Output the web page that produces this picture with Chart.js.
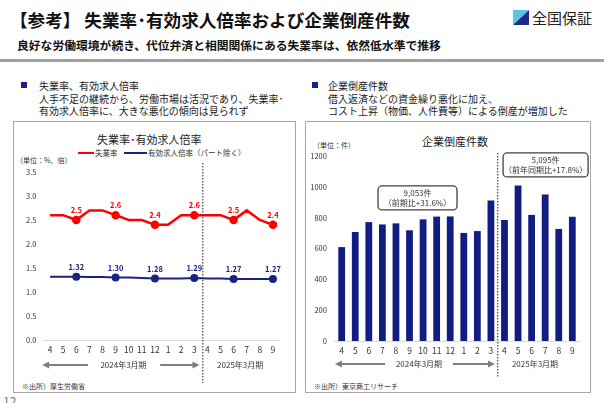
<!DOCTYPE html>
<html lang="ja">
<head>
<meta charset="utf-8">
<script src="https://cdn.jsdelivr.net/npm/chart.js@4.4.1/dist/chart.umd.min.js"></script>
<style>
  html, body { margin: 0; padding: 0; }
  body { width: 604px; height: 403px; overflow: hidden; position: relative; background: #fff;
         font-family: "Noto Sans CJK JP", sans-serif; color: #222; }
  .abs { position: absolute; white-space: nowrap; line-height: 1; }
  .title { left: 10px; top: 11px; font-size: 17.6px; font-weight: bold; color: #111; }
  .sub { left: 17px; top: 39px; font-size: 11.8px; font-weight: bold; color: #111; }
  .rule { left: 0; top: 59px; width: 604px; height: 3px; background: #a0a0a0; }
  .logo { left: 532px; top: 10px; font-size: 15px; color: #222; }
  .sq { width: 6px; height: 6px; background: #1a2383; }
  .txt { font-size: 10px; color: #222; }
  .box { box-sizing: border-box; border: 1.5px solid #a6a6a6; }
  .ctitle { font-size: 11px; color: #222; }
  .small { font-size: 7px; color: #333; }
  .leg { font-size: 7.5px; color: #333; }
  .legline { height: 2px; }
  canvas { position: absolute; }
</style>
</head>
<body>
<div class="abs title">【参考】 失業率･有効求人倍率および企業倒産件数</div>
<svg class="abs" style="left:513px;top:10px" width="16" height="15">
  <polygon points="0,0 16,0 0,15" fill="#5cc4dc"/>
  <polygon points="16,0 16,15 0,15" fill="#1a2b8c"/>
</svg>
<div class="abs logo">全国保証</div>
<div class="abs sub">良好な労働環境が続き、代位弁済と相関関係にある失業率は、依然低水準で推移</div>
<div class="abs rule"></div>

<div class="abs sq" style="left:21px;top:82px"></div>
<div class="abs txt" style="left:39px;top:81px">失業率、有効求人倍率</div>
<div class="abs txt" style="left:39px;top:94px">人手不足の継続から、労働市場は活況であり、失業率･</div>
<div class="abs txt" style="left:39px;top:106px">有効求人倍率に、大きな悪化の傾向は見られず</div>

<div class="abs sq" style="left:312px;top:82px"></div>
<div class="abs txt" style="left:328px;top:81px">企業倒産件数</div>
<div class="abs txt" style="left:328px;top:94px">借入返済などの資金繰り悪化に加え、</div>
<div class="abs txt" style="left:328px;top:106px">コスト上昇（物価、人件費等）による倒産が増加した</div>

<div class="abs box" style="left:13px;top:121px;width:283px;height:272px"></div>
<div class="abs box" style="left:305px;top:121px;width:286px;height:272px"></div>

<div class="abs ctitle" style="left:97px;top:134px">失業率･有効求人倍率</div>
<div class="abs legline" style="left:78px;top:152px;width:16px;background:#ff0000"></div>
<div class="abs leg" style="left:95px;top:149px">失業率</div>
<div class="abs legline" style="left:124px;top:152px;width:23px;background:#1a2383"></div>
<div class="abs leg" style="left:148px;top:149px">有効求人倍率（パート除く）</div>
<div class="abs small" style="left:16px;top:157px">（単位：%、倍）</div>
<div class="abs small" style="left:22px;top:383px">※出所）厚生労働省</div>

<div class="abs ctitle" style="left:422px;top:136px">企業倒産件数</div>
<div class="abs small" style="left:313px;top:142px">（単位：件）</div>
<div class="abs small" style="left:314px;top:383px">※出所）東京商工リサーチ</div>

<div class="abs" style="left:3px;top:395px;font-size:12px;color:#6a7890">12</div>

<canvas id="rateChart" width="283" height="272" style="left:13px;top:121px"></canvas>
<canvas id="countChart" width="286" height="272" style="left:305px;top:121px"></canvas>

<script>
// months of FY2023 (Apr-Mar) and FY2024 (Apr-Sep)
const months = ['4', '5', '6', '7', '8', '9', '10', '11', '12', '1', '2', '3', '4', '5', '6', '7', '8', '9'];
const unemployment = [2.6, 2.6, 2.5, 2.7, 2.7, 2.6, 2.5, 2.5, 2.4, 2.4, 2.6, 2.6, 2.6, 2.6, 2.5, 2.7, 2.5, 2.4];
const jobRatio = [1.32, 1.32, 1.32, 1.31, 1.31, 1.30, 1.30, 1.29, 1.28, 1.28, 1.28, 1.29, 1.28, 1.28, 1.27, 1.27, 1.27, 1.27];
const bankruptcies = [609, 707, 771, 756, 763, 718, 789, 807, 808, 701, 713, 911, 785, 1009, 818, 950, 727, 806];
const labelIndexes = [2, 5, 8, 11, 14, 17];
const rateTicks = { min: 0, max: 3.5, step: 0.5 };
const countTicks = { min: 0, max: 1200, step: 200 };
const periods = ['2024年3月期', '2025年3月期'];
const fy2023Note = ['9,053件', '（前期比+31.6%）'];
const fy2024Note = ['5,095件', '（前年同期比+17.8%）'];

const RED = '#ff0000';
const NAVY = '#1a2383';
const BAR = '#111d80';
const FONT = '"Noto Sans CJK JP", sans-serif';

function xAt(x, i) {
    const step = x.getPixelForValue(1) - x.getPixelForValue(0);
    return x.getPixelForValue(0) + i * step;
}

function drawArrow(ctx, x1, x2, y, headLeft) {
    ctx.beginPath();
    ctx.moveTo(headLeft ? x1 + 5 : x1, y);
    ctx.lineTo(headLeft ? x2 : x2 - 5, y);
    ctx.stroke();
    ctx.beginPath();
    if (headLeft) {
        ctx.moveTo(x1, y); ctx.lineTo(x1 + 7, y - 3.5); ctx.lineTo(x1 + 7, y + 3.5);
    } else {
        ctx.moveTo(x2, y); ctx.lineTo(x2 - 7, y - 3.5); ctx.lineTo(x2 - 7, y + 3.5);
    }
    ctx.closePath();
    ctx.fill();
}

// split line, period arrows and period names under the x axis
const periodPlugin = {
    id: 'period',
    afterDraw(chart, args, o) {
        const ctx = chart.ctx, x = chart.scales.x;
        ctx.save();
        const sx = xAt(x, o.split);
        ctx.strokeStyle = '#444';
        ctx.lineWidth = 1.2;
        ctx.setLineDash([1.6, 1.4]);
        ctx.beginPath();
        ctx.moveTo(sx, o.lineTop);
        ctx.lineTo(sx, o.lineBottom);
        ctx.stroke();
        ctx.setLineDash([]);

        ctx.strokeStyle = '#808080';
        ctx.fillStyle = '#808080';
        ctx.lineWidth = 2;
        drawArrow(ctx, xAt(x, o.arrowL[0]), xAt(x, o.arrowL[1]), o.arrowY, true);
        drawArrow(ctx, xAt(x, o.arrowR[0]), xAt(x, o.arrowR[1]), o.arrowY, false);

        ctx.fillStyle = '#333';
        ctx.font = '8px ' + FONT;
        ctx.textAlign = 'center';
        ctx.textBaseline = 'middle';
        ctx.fillText(periods[0], xAt(x, o.labelAt[0]), o.arrowY);
        ctx.fillText(periods[1], xAt(x, o.labelAt[1]), o.arrowY);
        ctx.restore();
    }
};

// value labels over the quarter-end points
const pointLabels = {
    id: 'pointLabels',
    afterDatasetsDraw(chart) {
        const ctx = chart.ctx;
        ctx.save();
        ctx.font = 'bold 7.5px ' + FONT;
        ctx.textAlign = 'center';
        ctx.textBaseline = 'bottom';
        chart.data.datasets.forEach((ds, k) => {
            const meta = chart.getDatasetMeta(k);
            ctx.fillStyle = ds.borderColor;
            labelIndexes.forEach(i => {
                const p = meta.data[i];
                ctx.fillText(ds.data[i].toFixed(ds.digits), p.x, p.y - 6);
            });
        });
        ctx.restore();
    }
};

// rounded note boxes with period totals
const noteBoxes = {
    id: 'notes',
    afterDraw(chart, args, o) {
        const ctx = chart.ctx, x = chart.scales.x, y = chart.scales.y;
        ctx.save();
        o.items.forEach(b => {
            const cx = xAt(x, b.at), cy = y.getPixelForValue(b.value);
            ctx.beginPath();
            ctx.roundRect(cx - b.w / 2, cy - 12, b.w, 24, 4);
            ctx.fillStyle = '#fff';
            ctx.fill();
            ctx.strokeStyle = '#404040';
            ctx.lineWidth = 1.3;
            ctx.stroke();
            ctx.fillStyle = '#333';
            ctx.font = '8px ' + FONT;
            ctx.textAlign = 'center';
            ctx.textBaseline = 'middle';
            ctx.fillText(b.lines[0], cx, cy - 5);
            ctx.fillText(b.lines[1], cx, cy + 5.5);
        });
        ctx.restore();
    }
};

function axisX() {
    return {
        grid: { display: false, drawTicks: false },
        border: { display: true, color: '#d9d9d9', width: 1 },
        ticks: { color: '#333', font: { family: FONT, size: 8.5 }, padding: 5, maxRotation: 0, autoSkip: false },
        afterFit: s => { s.height = 20; }
    };
}

function axisY(t, width, pad, fmt) {
    return {
        min: t.min, max: t.max,
        grid: { display: false, drawTicks: false },
        border: { display: false },
        ticks: { stepSize: t.step, color: '#333', padding: pad, font: { family: FONT, size: 7.5 }, callback: fmt },
        afterFit: s => { s.width = width; }
    };
}

const markerRadius = c => labelIndexes.includes(c.dataIndex) ? 3 : 0;

new Chart(document.getElementById('rateChart'), {
    type: 'line',
    data: {
        labels: months,
        datasets: [{
            label: '失業率',
            data: unemployment,
            digits: 1,
            borderColor: RED,
            backgroundColor: RED,
            borderWidth: 2.5,
            pointRadius: markerRadius,
            tension: 0
        }, {
            label: '有効求人倍率（パート除く）',
            data: jobRatio,
            digits: 2,
            borderColor: NAVY,
            backgroundColor: NAVY,
            borderWidth: 2,
            pointRadius: markerRadius,
            tension: 0
        }]
    },
    options: {
        responsive: false,
        animation: false,
        layout: { padding: { left: 0, right: 16.5, top: 51, bottom: 33 } },
        scales: {
            x: Object.assign(axisX(), { offset: true }),
            y: axisY(rateTicks, 30.5, 7, v => v.toFixed(1))
        },
        plugins: {
            legend: { display: false },
            tooltip: { enabled: false },
            period: { split: 11.65, lineTop: 42, lineBottom: 262, arrowY: 244,
                      arrowL: [-0.6, 2.9], arrowR: [8.4, 11.4], labelAt: [5.6, 14.5] }
        }
    },
    plugins: [pointLabels, periodPlugin]
});

new Chart(document.getElementById('countChart'), {
    type: 'bar',
    data: {
        labels: months,
        datasets: [{
            label: '企業倒産件数',
            data: bankruptcies,
            backgroundColor: BAR,
            categoryPercentage: 1,
            barPercentage: 0.5
        }]
    },
    options: {
        responsive: false,
        animation: false,
        layout: { padding: { left: 0, right: 11.9, top: 35, bottom: 32 } },
        scales: {
            x: axisX(),
            y: axisY(countTicks, 29.9, 8)
        },
        plugins: {
            legend: { display: false },
            tooltip: { enabled: false },
            period: { split: 11.5, lineTop: 32, lineBottom: 256, arrowY: 243,
                      arrowL: [-0.5, 3.2], arrowR: [8.2, 11.3], labelAt: [5.7, 14.25] },
            notes: { items: [
                { at: 5.59, value: 928, w: 79, lines: fy2023Note },
                { at: 15.03, value: 1142, w: 85, lines: fy2024Note }
            ] }
        }
    },
    plugins: [periodPlugin, noteBoxes]
});
</script>
</body>
</html>
